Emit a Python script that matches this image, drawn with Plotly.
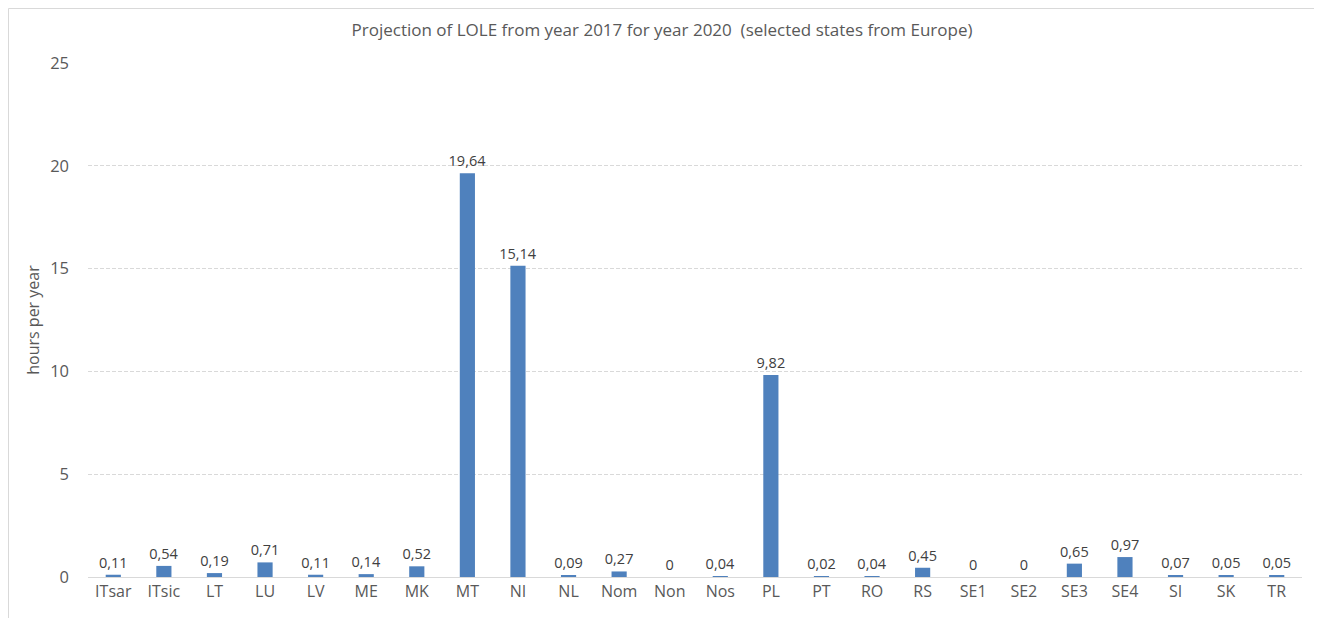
import plotly.graph_objects as go

categories = ["ITsar", "ITsic", "LT", "LU", "LV", "ME", "MK", "MT", "NI", "NL", "Nom", "Non",
              "Nos", "PL", "PT", "RO", "RS", "SE1", "SE2", "SE3", "SE4", "SI", "SK", "TR"]
lole_hours = [0.11, 0.54, 0.19, 0.71, 0.11, 0.14, 0.52, 19.64, 15.14, 0.09, 0.27, 0,
              0.04, 9.82, 0.02, 0.04, 0.45, 0, 0, 0.65, 0.97, 0.07, 0.05, 0.05]
y_ticks = [0, 5, 10, 15, 20, 25]

labels = [("0" if v == 0 else f"{v:.2f}".replace(".", ",")) for v in lole_hours]

FONT = "Open Sans"
GREY = "#595959"

# page has an 8px body margin: figure coords = screen coords - 8
L, R, T, B = 80, 28, 55, 49
W, H = 1322, 618
PW = W - L - R
PH = H - T - B

fig = go.Figure(go.Bar(
    x=categories, y=lole_hours,
    marker=dict(color="#4f81bd", line=dict(width=0)),
    text=labels, textposition="outside", cliponaxis=False,
    constraintext="none", textangle=0,
    textfont=dict(family=FONT, size=14.5, color="#404040"),
    hoverinfo="skip",
))

fig.update_layout(
    width=W, height=H,
    margin=dict(l=L, r=R, t=T, b=B, autoexpand=False),
    paper_bgcolor="white", plot_bgcolor="white",
    bargap=0.7, showlegend=False,
    title=dict(text="Projection of LOLE from year 2017 for year 2020  (selected states from Europe)",
               x=654 / W, xref="container", xanchor="center", y=1 - 22 / H, yanchor="middle",
               font=dict(family=FONT, size=17, color=GREY)),
    font=dict(family=FONT, color=GREY),
)
fig.update_xaxes(
    type="category", showgrid=False, showline=True, linecolor="#d9d9d9", linewidth=1,
    ticks="", tickfont=dict(family=FONT, size=16, color=GREY), zeroline=False,
    automargin=False,
)
fig.update_yaxes(
    range=[0, 25], tickvals=y_ticks, showgrid=True, gridcolor="#d9d9d9", griddash="4px,2px",
    gridwidth=1, zeroline=False, showline=False, ticks="", ticklen=0,
    ticklabelstandoff=18, automargin=False,
    tickfont=dict(family=FONT, size=16.5, color=GREY),
    title=dict(text="hours per year", font=dict(family=FONT, size=16, color=GREY), standoff=6),
)
fig.add_shape(type="rect", xref="paper", yref="paper",
              x0=(0.5 - L) / PW, x1=(1310 - L) / PW,
              y0=-0.3, y1=(PH + T - 0.5) / PH,
              line=dict(color="#d9d9d9", width=1), fillcolor="rgba(0,0,0,0)", layer="below")

fig.write_html("out.html")
